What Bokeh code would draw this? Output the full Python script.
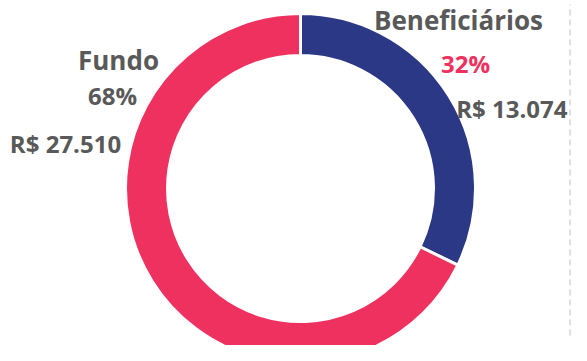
import numpy as np
from bokeh.plotting import figure
from bokeh.models import Range1d, ColumnDataSource
from bokeh.core.properties import value
from bokeh.embed import file_html
from bokeh.resources import INLINE

# ---- data ----
categories = ["Beneficiários", "Fundo"]
amounts = [13074, 27510]
amount_labels = ["R$ 13.074", "R$ 27.510"]
colors = ["#2B3886", "#EE315E"]

vals = np.array(amounts, dtype=float)
frac = vals / vals.sum()
pct_labels = [f"{round(f*100):d}%" for f in frac]

cum = np.concatenate([[0.0], np.cumsum(frac)])
start = np.pi / 2 - 2 * np.pi * cum[:-1]
end = np.pi / 2 - 2 * np.pi * cum[1:]

W, H = 571, 345
TOP = 361
p = figure(width=W, height=H, output_backend="svg", toolbar_location=None,
           x_range=Range1d(0, W), y_range=Range1d(TOP - H, TOP),
           min_border=0, outline_line_color=None)
p.axis.visible = False
p.grid.visible = False
p.background_fill_color = "white"
p.border_fill_color = "white"

cx, cy = 300, TOP - 188
src = ColumnDataSource(dict(start=start, end=end, color=colors, cat=categories))
p.annular_wedge(x=cx, y=cy, inner_radius=133, outer_radius=175,
                start_angle="start", end_angle="end", direction="clock",
                fill_color="color", line_color="white", line_width=3, source=src)

# dashed separator at right edge
p.segment(x0=[569.5], y0=[TOP - 335], x1=[569.5], y1=[TOP - 4],
          line_color="#BFBFBF", line_width=1, line_dash="6 4")

gray = "#595959"
font = value("Open Sans")
common = dict(text_font=font, text_font_style="bold", text_baseline="alphabetic")
dy = 9

# Beneficiários labels
p.text(x=[458], y=[TOP - 28 + dy], text=[categories[0]], text_align="center",
       text_color=gray, text_font_size="26px", **common)
p.text(x=[465], y=[TOP - 72 + dy], text=[pct_labels[0]], text_align="center",
       text_color=colors[1], text_font_size="24px", **common)
p.text(x=[567], y=[TOP - 117 + dy], text=[amount_labels[0]], text_align="right",
       text_color=gray, text_font_size="24px", **common)

# Fundo labels
p.text(x=[118], y=[TOP - 68 + dy], text=[categories[1]], text_align="center",
       text_color=gray, text_font_size="26px", **common)
p.text(x=[112], y=[TOP - 104 + dy], text=[pct_labels[1]], text_align="center",
       text_color=gray, text_font_size="24px", **common)
p.text(x=[65], y=[TOP - 152 + dy], text=[amount_labels[1]], text_align="center",
       text_color=gray, text_font_size="24px", **common)

open("out.html", "w").write(file_html(p, INLINE))
